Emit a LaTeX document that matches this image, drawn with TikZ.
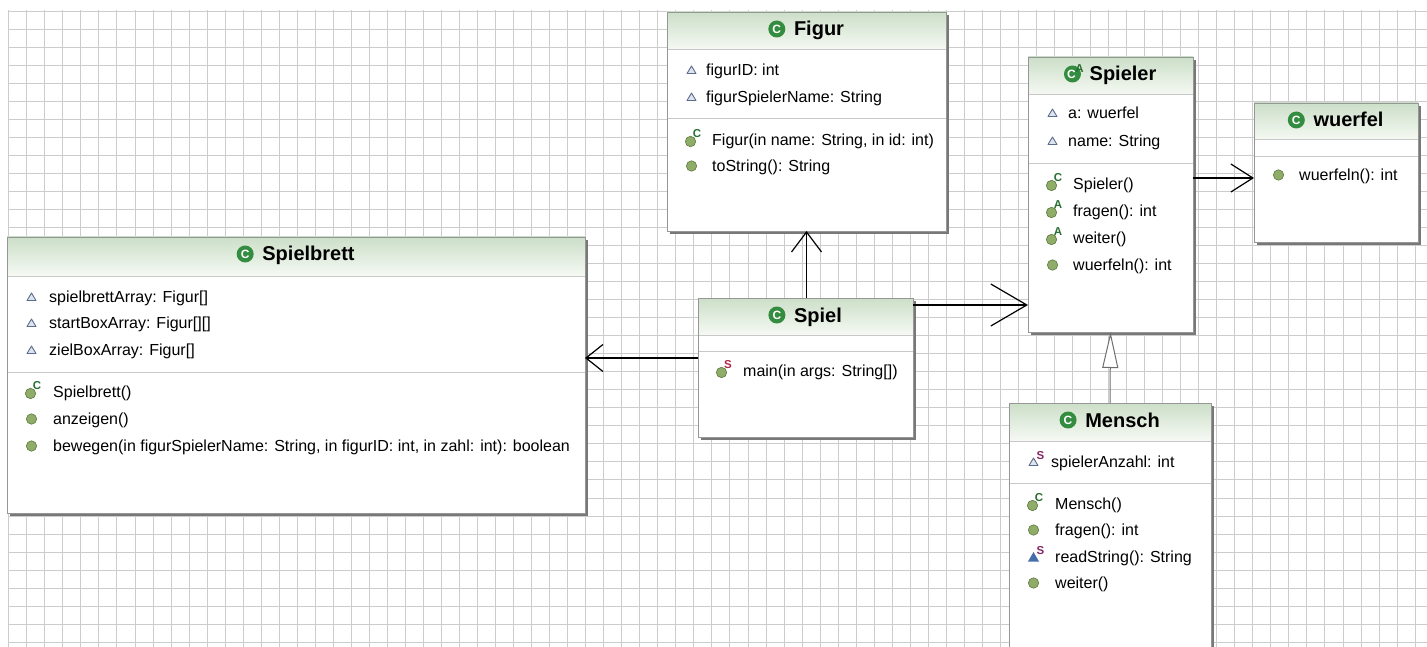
\documentclass[tikz,border=0pt]{standalone}
\usepackage{fontspec}
\setmainfont{Liberation Sans}
\usetikzlibrary{arrows.meta,calc}

\definecolor{gridgray}{RGB}{204,204,204}
\definecolor{boxborder}{RGB}{150,150,150}
\definecolor{boxshadow}{RGB}{120,120,120}
\definecolor{hdrtop}{RGB}{204,223,200}
\definecolor{hdrbot}{RGB}{246,249,244}
\definecolor{sepgray}{RGB}{200,200,200}
\definecolor{clsgreen}{RGB}{52,140,64}
\definecolor{mthfill}{RGB}{143,172,104}
\definecolor{mthdraw}{RGB}{92,122,62}
\definecolor{attrdraw}{RGB}{92,108,140}
\definecolor{attrfill}{RGB}{222,228,238}
\definecolor{ctorgreen}{RGB}{40,110,50}
\definecolor{statred}{RGB}{175,40,70}
\definecolor{statpurple}{RGB}{130,40,100}
\definecolor{privblue}{RGB}{70,110,170}
\definecolor{inhgray}{RGB}{110,110,110}

\tikzset{
  gridline/.style={draw=gridgray, line width=1pt},
  classframe/.style={draw=boxborder, fill=white, line width=0.8pt, inner sep=0pt, outer sep=0pt},
  sepline/.style={draw=sepgray, line width=1pt},
  titletext/.style={font=\bfseries\fontsize{20}{20}\selectfont, inner sep=0pt, anchor=base},
  rowtext/.style={font=\fontsize{16}{16}\selectfont, inner sep=0pt, anchor=base west},
  supmark/.style={font=\bfseries\fontsize{11.5}{11.5}\selectfont, inner sep=0pt},
  assoc/.style={draw=black, line width=1.2pt},
  inherit/.style={draw=inhgray, line width=1pt, -{Triangle[length=36pt, width=16pt, fill=white]}},
  classicon/.pic={
    \fill[clsgreen] (0,0) circle (8.5pt);
    \node[text=white, font=\bfseries\fontsize{12}{12}\selectfont, inner sep=0pt] (-c) at (0,0) {C};
  },
  abstracticon/.pic={
    \fill[clsgreen] (0,0) circle (8.5pt);
    \node[text=white, font=\bfseries\fontsize{12}{12}\selectfont, inner sep=0pt] (-c) at (-1,0) {C};
    \node[supmark, text=ctorgreen] (-a) at (7,-5) {A};
  },
  mthicon/.pic={
    \fill[mthfill, draw=mthdraw, line width=0.6pt] (0,0) circle (5.2pt);
  },
  ctoricon/.pic={
    \fill[mthfill, draw=mthdraw, line width=0.6pt] (-1,1.5) circle (5.2pt);
    \node[supmark, text=ctorgreen] (-s) at (5.5,-6.5) {C};
  },
  absicon/.pic={
    \fill[mthfill, draw=mthdraw, line width=0.6pt] (-1,1.5) circle (5.2pt);
    \node[supmark, text=ctorgreen] (-s) at (5.5,-6.5) {A};
  },
  staticon/.pic={
    \fill[mthfill, draw=mthdraw, line width=0.6pt] (-1,1.5) circle (5.2pt);
    \node[supmark, text=statred] (-s) at (5.5,-6.5) {S};
  },
  attricon/.pic={
    \draw[attrdraw, fill=attrfill, line width=0.9pt, line join=round]
      (-4.5,3.5) -- (4.5,3.5) -- (0,-4) -- cycle;
  },
  sattricon/.pic={
    \draw[attrdraw, fill=attrfill, line width=0.9pt, line join=round]
      (-4.5,3.5) -- (4.5,3.5) -- (0,-4) -- cycle;
    \node[supmark, text=statpurple] (-s) at (7,-6.5) {S};
  },
  pstaticon/.pic={
    \fill[privblue] (-5.5,4.5) -- (5.5,4.5) -- (0,-5) -- cycle;
    \node[supmark, text=statpurple] (-s) at (7,-6.5) {S};
  },
}

% class box: name, left, top, right, bottom, header line, attribute line, title, title icon
\newcommand{\umlclass}[9]{%
  \fill[boxshadow] ({#2+3},{#3+3}) rectangle ({#4+3},{#5+3});
  \node[classframe, anchor=north west,
        minimum width={(#4-#2)*1pt}, minimum height={(#5-#3)*1pt}] (#1) at (#2,#3) {};
  \shade[top color=hdrtop, bottom color=hdrbot] (#2,#3) rectangle (#4,#6);
  \draw[sepline] (#2,#6) -- (#4,#6);
  \draw[sepline] (#2,#7) -- (#4,#7);
  \draw[boxborder, line width=0.8pt] (#1.north west) rectangle (#1.south east);
  \node[titletext] (#1-title) at ({(#2+#4)/2+12.5},{#3+24}) {#8};
  \pic (#1-icon) at ([xshift=-17pt,yshift=7pt]#1-title.base west) {#9};
}

% member row: name, box left, row centre, icon, text offset, text
\newcommand{\umlrow}[6]{%
  \pic (#1-ic) at ({#2+24.5},#3) {#4};
  \node[rowtext] (#1) at ({#2+#5},{#3+5.5}) {#6};
}

\begin{document}
\begin{tikzpicture}[x=1pt, y=-1pt]
\useasboundingbox (0,0) rectangle (1427,647);
\begin{scope}
\clip (0,0) rectangle (1427,647);
\fill[white] (0,0) rectangle (1427,647);

% drawing grid, one pixel wide lines on whole pixels
\foreach \i in {0,...,78} {
  \pgfmathsetmacro\gx{round(8.3+18.03*\i)+0.5}
  \draw[gridline] (\gx,10.5) -- (\gx,647);
}
\foreach \j in {0,...,35} {
  \pgfmathsetmacro\gy{round(10.7+18.03*\j)+0.5}
  \draw[gridline] (8.5,\gy) -- (1427,\gy);
}

% Figur
\umlclass{figur}{667}{12}{946}{231}{50}{119}{Figur}{classicon}
\umlrow{figur-a1}{667}{70}{attricon}{39}{figurID: int}
\umlrow{figur-a2}{667}{97}{attricon}{39}{figurSpielerName: String}
\umlrow{figur-m1}{667}{140}{ctoricon}{45}{Figur(in name: String, in id: int)}
\umlrow{figur-m2}{667}{166}{mthicon}{45}{toString(): String}

% Spieler
\umlclass{spieler}{1028}{57}{1193}{332}{95}{164}{Spieler}{abstracticon}
\umlrow{spieler-a1}{1028}{113}{attricon}{40}{a: wuerfel}
\umlrow{spieler-a2}{1028}{141}{attricon}{40}{name: String}
\umlrow{spieler-m1}{1028}{184}{ctoricon}{45}{Spieler()}
\umlrow{spieler-m2}{1028}{211}{absicon}{45}{fragen(): int}
\umlrow{spieler-m3}{1028}{238}{absicon}{45}{weiter()}
\umlrow{spieler-m4}{1028}{265}{mthicon}{45}{wuerfeln(): int}

% wuerfel
\umlclass{wuerfel}{1254}{103}{1418}{242}{140}{157}{wuerfel}{classicon}
\umlrow{wuerfel-m1}{1254}{175}{mthicon}{45}{wuerfeln(): int}

% Spiel
\umlclass{spiel}{698}{298}{913}{437}{335}{351}{Spiel}{classicon}
\umlrow{spiel-m1}{698}{371}{staticon}{45}{main(in args: String[])}

% Spielbrett
\umlclass{spielbrett}{7}{237}{585}{513}{276}{372}{Spielbrett}{classicon}
\umlrow{spielbrett-a1}{7}{297}{attricon}{42}{spielbrettArray: Figur[]}
\umlrow{spielbrett-a2}{7}{323}{attricon}{42}{startBoxArray: Figur[][]}
\umlrow{spielbrett-a3}{7}{350}{attricon}{42}{zielBoxArray: Figur[]}
\umlrow{spielbrett-m1}{7}{392}{ctoricon}{46}{Spielbrett()}
\umlrow{spielbrett-m2}{7}{419}{mthicon}{46}{anzeigen()}
\umlrow{spielbrett-m3}{7}{446}{mthicon}{46}{bewegen(in figurSpielerName: String, in figurID: int, in zahl: int): boolean}

% Mensch
\umlclass{mensch}{1009}{403}{1211}{690}{441}{483}{Mensch}{classicon}
\umlrow{mensch-a1}{1009}{462}{sattricon}{42}{spielerAnzahl: int}
\umlrow{mensch-m1}{1009}{504}{ctoricon}{46}{Mensch()}
\umlrow{mensch-m2}{1009}{530}{mthicon}{46}{fragen(): int}
\umlrow{mensch-m3}{1009}{557}{pstaticon}{46}{readString(): String}
\umlrow{mensch-m4}{1009}{583}{mthicon}{46}{weiter()}

% associations
\draw[assoc, -{Straight Barb[length=20pt, width=30pt]}] (figur.south |- spiel.north) -- (figur.south);

\coordinate (spiel-r) at ([yshift=-7pt]spiel.north east);
\draw[assoc, -{Straight Barb[length=36pt, width=42pt]}] (spiel-r) -- (spiel-r -| spieler.west);

\coordinate (spiel-l) at ([yshift=9.5pt]spiel.west);
\draw[assoc, -{Straight Barb[length=17pt, width=27pt]}] (spiel-l) -- (spiel-l -| spielbrett.east);

\coordinate (wuerfel-l) at ([yshift=-5.5pt]wuerfel.west);
\draw[assoc, -{Straight Barb[length=22pt, width=28pt]}] (wuerfel-l -| spieler.east) -- (wuerfel-l);

% generalisation
\draw[inherit] (mensch.north) -- (spieler.south);
\end{scope}
\end{tikzpicture}
\end{document}
